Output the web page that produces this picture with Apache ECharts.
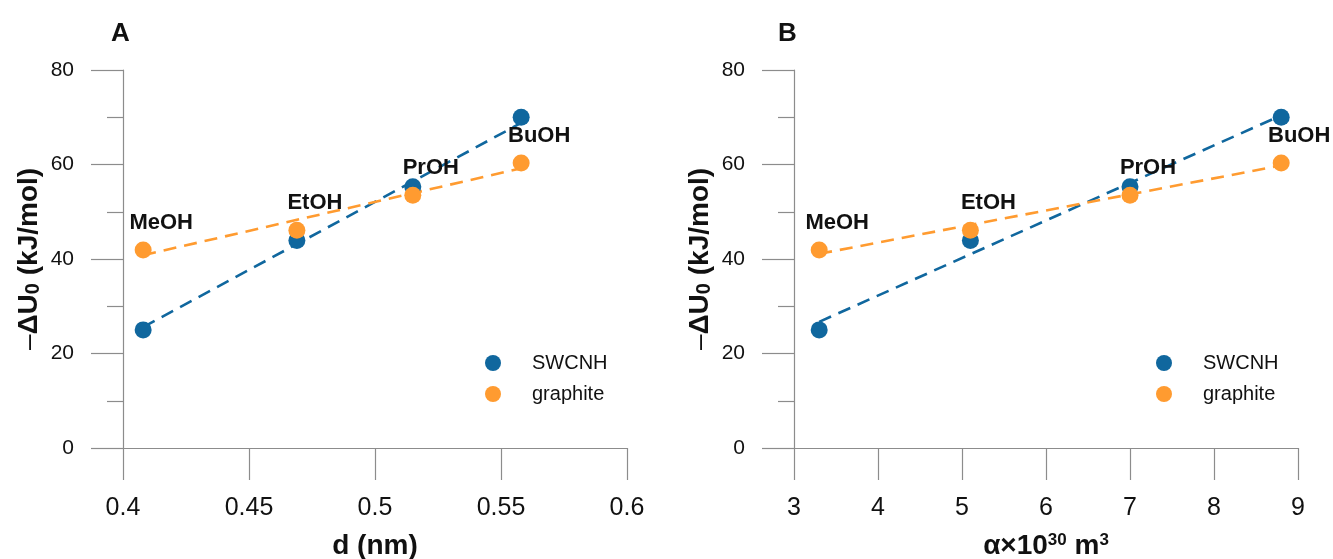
<!DOCTYPE html>
<html>
<head>
<meta charset="utf-8">
<title>-ΔU0 vs d and α</title>
<script src="https://cdn.jsdelivr.net/npm/echarts@6/dist/echarts.min.js"></script>
<style>
  html, body { margin: 0; padding: 0; background: #fff; }
  #chart { width: 1333px; height: 559px; }
</style>
</head>
<body>
<div id="chart"></div>
<script>
// alcohols (point labels)
const alcohols = ["MeOH", "EtOH", "PrOH", "BuOH"];
// panel A: d (nm)
const diameter = [0.408, 0.469, 0.515, 0.558];
// panel B: α×10^30 m^3
const polarizability = [3.3, 5.1, 7.0, 8.8];
// -ΔU0 (kJ/mol)
const swcnhU = [25.0, 43.9, 55.3, 70.0];
const graphiteU = [41.9, 46.1, 53.5, 60.3];
// dashed trend lines: values at first and last x
const swcnhFitA = [25.6, 68.8];
const graphiteFitA = [40.8, 59.2];
const swcnhFitB = [26.7, 70.4];
const graphiteFitB = [41.1, 59.8];
// tick labels
const yTicks = [0, 20, 40, 60, 80];
const xTicksA = [0.4, 0.45, 0.5, 0.55, 0.6];
const xTicksB = [3, 4, 5, 6, 7, 8, 9];

const blue = "#10679e";
const orange = "#ff9b30";
const gray = "#8c8c8c";
const font = "'Liberation Sans', Arial, Helvetica, sans-serif";

const chart = echarts.init(document.getElementById("chart"));

function pairs(xs, ys) {
  return xs.map((x, i) => [x, ys[i]]);
}
function ends(xs, ys) {
  return [[xs[0], ys[0]], [xs[xs.length - 1], ys[1]]];
}

function xAxis(gridIndex, ticks, name) {
  return {
    type: "value",
    gridIndex: gridIndex,
    min: ticks[0],
    max: ticks[ticks.length - 1],
    interval: ticks[1] - ticks[0],
    name: name,
    nameLocation: "middle",
    nameGap: 84,
    nameMoveOverlap: false,
    nameTextStyle: {
      fontFamily: font, fontSize: 28, fontWeight: "bold", color: "#111",
      rich: {
        n: { fontFamily: font, fontSize: 28, fontWeight: "bold", color: "#111" },
        sup: { fontFamily: font, fontSize: 17, fontWeight: "bold", color: "#111", verticalAlign: "top", padding: [0, 0, 10, 0] }
      }
    },
    axisLine: { onZero: false, lineStyle: { color: gray, width: 1.2 } },
    axisTick: { show: true, length: 32, lineStyle: { color: gray, width: 1.2 } },
    axisLabel: { margin: 48, fontFamily: font, fontSize: 25, color: "#111" },
    splitLine: { show: false }
  };
}

function yAxis(gridIndex) {
  return {
    type: "value",
    gridIndex: gridIndex,
    min: yTicks[0],
    max: yTicks[yTicks.length - 1],
    interval: yTicks[1] - yTicks[0],
    name: "{m|–}{n|ΔU}{s|0}{n| (kJ/mol)}",
    nameLocation: "middle",
    nameGap: 80,
    nameMoveOverlap: false,
    nameTextStyle: {
      rich: {
        m: { fontFamily: font, fontSize: 28, fontWeight: "normal", color: "#111" },
        n: { fontFamily: font, fontSize: 28, fontWeight: "bold", color: "#111" },
        s: { fontFamily: font, fontSize: 20, fontWeight: "bold", color: "#111", verticalAlign: "bottom" }
      }
    },
    axisLine: { show: true, onZero: false, lineStyle: { color: gray, width: 1.2 } },
    axisTick: { show: true, length: 32, lineStyle: { color: gray, width: 1.2 } },
    minorTick: { show: true, splitNumber: 2, length: 16, lineStyle: { color: gray, width: 1.2 } },
    axisLabel: { margin: 49, fontFamily: font, fontSize: 21, color: "#111" },
    splitLine: { show: false },
    minorSplitLine: { show: false }
  };
}

function scatter(name, idx, xs, ys, color, withLabels) {
  return {
    name: name,
    type: "scatter",
    xAxisIndex: idx,
    yAxisIndex: idx,
    data: pairs(xs, ys),
    symbol: "circle",
    symbolSize: 17,
    itemStyle: { color: color, opacity: 1 },
    z: 3,
    label: {
      show: withLabels,
      position: "inside",
      offset: [18, -27],
      formatter: p => alcohols[p.dataIndex],
      fontFamily: font,
      fontSize: 22,
      fontWeight: "bold",
      color: "#111"
    }
  };
}

function fit(name, idx, xs, ys, color) {
  return {
    name: name,
    type: "line",
    xAxisIndex: idx,
    yAxisIndex: idx,
    data: ends(xs, ys),
    symbol: "none",
    silent: true,
    z: 2,
    lineStyle: { color: color, width: 2.6, type: [13, 8] }
  };
}

function legend(left) {
  return {
    data: ["SWCNH", "graphite"],
    orient: "vertical",
    left: left,
    top: 348,
    icon: "circle",
    itemWidth: 16,
    itemHeight: 16,
    itemGap: 11,
    textStyle: { fontFamily: font, fontSize: 20, color: "#111", padding: [0, 0, 0, 26] }
  };
}

const option = {
  animation: false,
  backgroundColor: "#fff",
  grid: [
    { left: 123, top: 70, width: 504, height: 378, outerBoundsMode: "none" },
    { left: 794, top: 70, width: 504, height: 378, outerBoundsMode: "none" }
  ],
  xAxis: [
    xAxis(0, xTicksA, "d (nm)"),
    xAxis(1, xTicksB, "{n|α×10}{sup|30}{n| m}{sup|3}")
  ],
  yAxis: [yAxis(0), yAxis(1)],
  legend: [legend(480), legend(1151)],
  graphic: [
    { type: "text", left: 111, top: 21, style: { text: "A", font: "bold 26px " + font, fill: "#111" } },
    { type: "text", left: 778, top: 21, style: { text: "B", font: "bold 26px " + font, fill: "#111" } }
  ],
  series: [
    fit("SWCNH fit A", 0, diameter, swcnhFitA, blue),
    fit("graphite fit A", 0, diameter, graphiteFitA, orange),
    scatter("SWCNH", 0, diameter, swcnhU, blue, false),
    scatter("graphite", 0, diameter, graphiteU, orange, true),
    fit("SWCNH fit B", 1, polarizability, swcnhFitB, blue),
    fit("graphite fit B", 1, polarizability, graphiteFitB, orange),
    scatter("SWCNH", 1, polarizability, swcnhU, blue, false),
    scatter("graphite", 1, polarizability, graphiteU, orange, true)
  ]
};

chart.setOption(option);
</script>
</body>
</html>
